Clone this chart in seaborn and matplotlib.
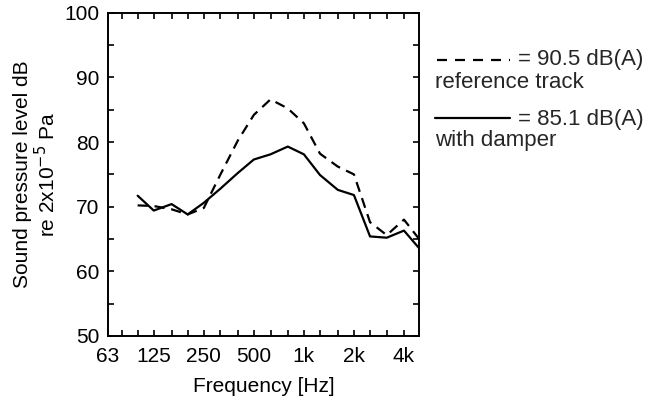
import matplotlib
matplotlib.use("Agg")
import matplotlib.pyplot as plt
import seaborn as sns
import pandas as pd
from matplotlib.lines import Line2D
from matplotlib.ticker import NullLocator

sns.set_theme(style="white")
plt.rcParams['font.family'] = ['Liberation Sans', 'DejaVu Sans']

freq = [100, 125, 160, 200, 250, 315, 400, 500, 630, 800,
        1000, 1250, 1600, 2000, 2500, 3150, 4000, 5000]
reference_track = [70.2, 70.1, 69.6, 68.8, 69.8, 75.0, 80.2, 84.2, 86.6, 85.2,
                   82.9, 78.2, 76.2, 75.0, 67.6, 65.6, 68.0, 64.8]
with_damper = [71.7, 69.4, 70.4, 68.8, 70.6, 72.8, 75.2, 77.3, 78.1, 79.3,
               78.1, 74.9, 72.6, 71.8, 65.4, 65.2, 66.3, 63.4]

tick_freqs = [66.3, 125, 250, 500, 1000, 2000, 4000]
tick_labels = ['63', '125', '250', '500', '1k', '2k', '4k']
band_ticks = [80, 100, 160, 200, 315, 400, 630, 800, 1250, 1600, 2500, 3150]

df = pd.DataFrame({'freq': freq, 'ref': reference_track, 'damp': with_damper})

fig = plt.figure(figsize=(6.56, 3.99), dpi=100)
ax = fig.add_axes([0.1646, 0.158, 0.4741, 0.810])

lw = 1.6
sns.lineplot(data=df, x='freq', y='ref', ax=ax, color='black', lw=lw,
             estimator=None)
ax.lines[-1].set_dashes((4.6, 3.0))
sns.lineplot(data=df, x='freq', y='damp', ax=ax, color='black', lw=lw,
             estimator=None)

FS = 15
ax.set_xscale('log')
ax.set_xlim(66.3, 4925)
ax.set_ylim(50, 100)
ax.xaxis.set_minor_locator(NullLocator())
ax.set_xticks(tick_freqs + band_ticks)
ax.set_xticklabels(tick_labels + [''] * len(band_ticks))
ax.set_yticks([50, 55, 60, 65, 70, 75, 80, 85, 90, 95, 100])
ax.set_yticklabels(['50', '', '60', '', '70', '', '80', '', '90', '', '100'])
ax.tick_params(direction='in', length=4, width=1.2, top=True, right=True,
               bottom=True, left=True, labelsize=FS, colors='black')
ax.tick_params(axis='x', pad=8)
ax.tick_params(axis='y', pad=6)
for s in ax.spines.values():
    s.set_linewidth(1.4)
    s.set_color('black')

ax.set_xlabel('Frequency [Hz]', fontsize=FS, color='black')
ax.xaxis.set_label_coords(0.5, -0.126)
ax.set_ylabel('Sound pressure level dB\nre 2x10$^{-5}$ Pa', fontsize=FS,
              color='black', linespacing=1.1)
ax.yaxis.set_label_coords(-0.158, 0.5)

W, H = 656, 399
def fx(x): return x / W
def fy(y): return 1 - y / H

LFS = 16
fig.add_artist(Line2D([fx(437), fx(510)], [fy(60), fy(60)], color='black',
                      lw=lw, dashes=(4.5, 3.6), transform=fig.transFigure))
fig.text(fx(518), fy(60), '= 90.5 dB(A)', fontsize=LFS, va='center', ha='left')
fig.text(fx(435), fy(82), 'reference track', fontsize=LFS, va='center', ha='left')
fig.add_artist(Line2D([fx(435), fx(510)], [fy(118), fy(118)], color='black',
                      lw=lw, transform=fig.transFigure))
fig.text(fx(518), fy(119), '= 85.1 dB(A)', fontsize=LFS, va='center', ha='left')
fig.text(fx(435), fy(141), 'with damper', fontsize=LFS, va='center', ha='left')

fig.savefig('out.png', dpi=100)
